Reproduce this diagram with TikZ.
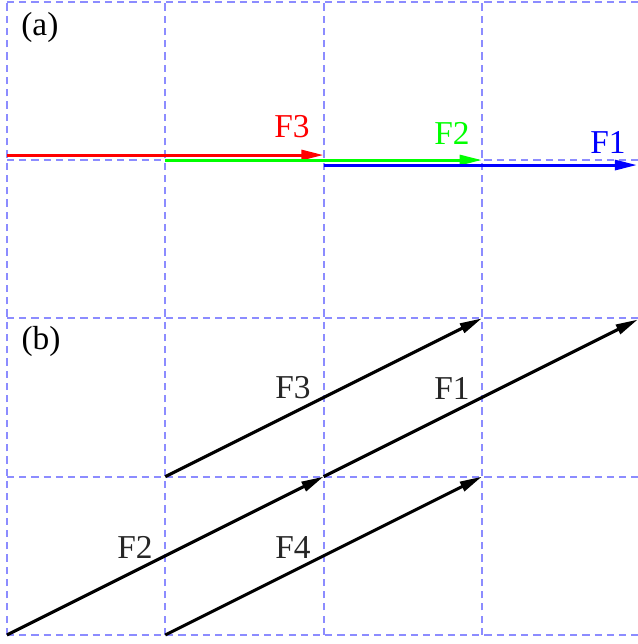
\documentclass[tikz,border=0pt]{standalone}
\usepackage{fontspec}
\setmainfont{Liberation Serif}
\usetikzlibrary{arrows.meta}
\begin{document}
\begin{tikzpicture}[x=2cm,y=2cm,
  gridline/.style={draw={rgb,255:red,140;green,140;blue,255},line width=0.7pt,dash pattern=on 2.6pt off 1.8pt},
  force/.style={line width=1.1pt,-{Triangle[length=8pt,width=3.6pt]}},
  lbl/.style={font=\fontsize{12}{14}\selectfont,inner sep=0pt}]
\useasboundingbox (-0.044,-0.057) rectangle (3.986,4.011);
\clip (-0.044,-0.057) rectangle (3.986,4.011);
% grid
\foreach \i in {0,1,2,3,4} {
  \draw[gridline] (\i,0) -- (\i,4);
  \draw[gridline] (0,\i) -- (4.2,\i);
}
% panel labels
\node[lbl] (pa) at (0.208,3.84) {(a)};
\node[lbl] (pb) at (0.215,1.851) {(b)};
% panel (a)
\coordinate (r0) at (0,3);
\coordinate (r1) at (2,3);
\coordinate (g0) at (1,3);
\coordinate (g1) at (3,3);
\coordinate (b0) at (2,3);
\coordinate (b1) at (3.98,3);
\draw[force,red] ([yshift=1.8pt]r0) -- ([yshift=1.8pt]r1);
\draw[force,green] (g0) -- (g1);
\draw[force,blue] ([yshift=-1.8pt]b0) -- ([yshift=-1.8pt]b1);
\node[lbl,text=red] (aF3) at (1.80,3.209) {F3};
\node[lbl,text=green] (aF2) at (2.811,3.171) {F2};
\node[lbl,text=blue] (aF1) at (3.797,3.108) {F1};
% panel (b)
\coordinate (p00) at (0,0);
\coordinate (p10) at (1,0);
\coordinate (p11) at (1,1);
\coordinate (p21) at (2,1);
\coordinate (p32) at (3,2);
\coordinate (p31) at (3,1);
\coordinate (p42) at (3.985,1.9925);
\draw[force,black] (p11) -- (p32);
\draw[force,black] (p00) -- (p21);
\draw[force,black] (p21) -- (p42);
\draw[force,black] (p10) -- (p31);
\node[lbl,text=black!85] (bF3) at (1.807,1.56) {F3};
\node[lbl,text=black!85] (bF1) at (2.811,1.56) {F1};
\node[lbl,text=black!85] (bF2) at (0.809,0.55) {F2};
\node[lbl,text=black!85] (bF4) at (1.807,0.55) {F4};
\end{tikzpicture}
\end{document}
